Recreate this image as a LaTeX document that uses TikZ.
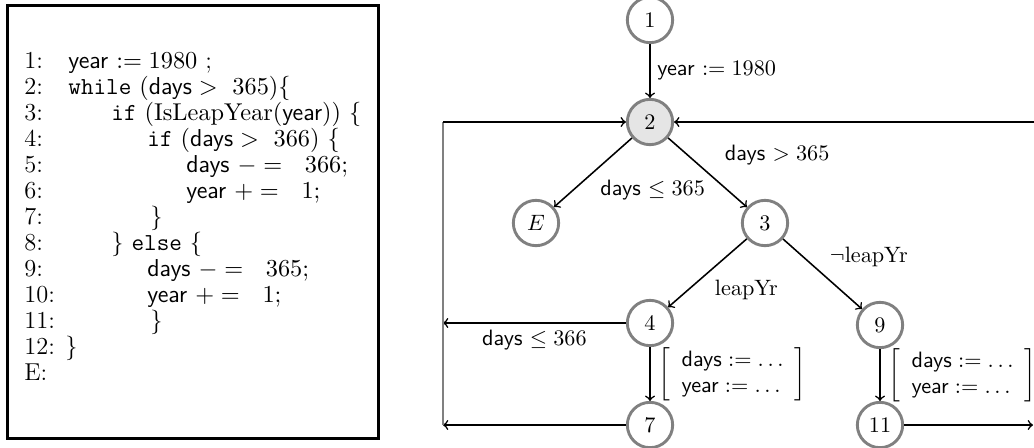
\documentclass[tikz,border=0pt]{standalone}
\usepackage{amsmath,amssymb}
\begin{document}
\begin{tikzpicture}[x=0.45pt,y=-0.45pt,
  cfgnode/.style={circle,draw=gray,line width=1.3pt,minimum size=20.4pt,inner sep=0pt},
  flow/.style={->,line width=0.7pt},
  codeline/.style={anchor=base west,inner sep=0pt,font=\fontsize{11}{13}\selectfont},
  lbl/.style={inner sep=3pt},
  brk/.style={inner sep=3.6pt}]
\useasboundingbox (0,0) rectangle (1034,447);
% code box
\draw[line width=1.35pt] (7,5) rectangle (378,438);
\node[codeline] (l1)  at (24,68)  {1:};
\node[codeline] (t1)  at (68,68)  {\textsf{year} $:= 1980$ ;};
\node[codeline] (l2)  at (24,94)  {2:};
\node[codeline] (t2)  at (68,94)  {\texttt{while} $(\textsf{days} >\ 365)\{$};
\node[codeline] (l3)  at (24,120) {3:};
\node[codeline] (t3)  at (111,120) {\texttt{if} $(\mathrm{IsLeapYear}(\textsf{year}))\ \{$};
\node[codeline] (l4)  at (24,146) {4:};
\node[codeline] (t4)  at (147,146) {\texttt{if} $(\textsf{days} >\ 366)\ \{$};
\node[codeline] (l5)  at (24,172) {5:};
\node[codeline] (t5)  at (186,172) {\textsf{days} $- =\ \ 366;$};
\node[codeline] (l6)  at (24,198) {6:};
\node[codeline] (t6)  at (186,198) {\textsf{year} $+ =\ \ 1;$};
\node[codeline] (l7)  at (24,224) {7:};
\node[codeline] (t7)  at (150,224) {\}};
\node[codeline] (l8)  at (24,250) {8:};
\node[codeline] (t8)  at (111,250) {\} \texttt{else} \{};
\node[codeline] (l9)  at (24,276) {9:};
\node[codeline] (t9)  at (147,276) {\textsf{days} $- =\ \ 365;$};
\node[codeline] (l10) at (24,302) {10:};
\node[codeline] (t10) at (147,302) {\textsf{year} $+ =\ \ 1;$};
\node[codeline] (l11) at (24,328) {11:};
\node[codeline] (t11) at (150,328) {\}};
\node[codeline] (l12) at (24,354) {12:};
\node[codeline] (t12) at (65,354) {\}};
\node[codeline] (lE)  at (24,380) {E:};
% CFG
\node[cfgnode] (n1) at (650,20) {$1$};
\node[cfgnode,fill=gray!20] (n2) at (650,122) {$2$};
\node[cfgnode] (nE) at (536,223) {$E$};
\node[cfgnode] (n3) at (765,223) {$3$};
\node[cfgnode] (n4) at (650,323) {$4$};
\node[cfgnode] (n9) at (880,325) {$9$};
\node[cfgnode] (n7) at (650,425) {$7$};
\node[cfgnode] (n11) at (880,425) {$11$};
\coordinate (L0) at (443,122);
\coordinate (L1) at (443,323);
\coordinate (L2) at (443,425);
\coordinate (R0) at (1034,122);
\coordinate (R1) at (1033,425);
\draw[flow] (n1) -- node[right,lbl]{\textsf{year} $:= 1980$} (n2);
\draw[flow] (n2) -- node[pos=0.5,below right,lbl]{\textsf{days} $\leq 365$} (nE);
\draw[flow] (n2) -- node[pos=0.5,above right,lbl,xshift=4.5pt]{\textsf{days} $> 365$} (n3);
\draw[flow] (n3) -- node[pos=0.5,below right,lbl]{$\mathrm{leapYr}$} (n4);
\draw[flow] (n3) -- node[pos=0.5,above right,lbl]{$\neg\mathrm{leapYr}$} (n9);
\draw[flow] (n4) -- node[right,brk]{$\left[\begin{array}{l}\textsf{days} := \ldots\\ \textsf{year} := \ldots\end{array}\right]$} (n7);
\draw[flow] (n9) -- node[right,brk]{$\left[\begin{array}{l}\textsf{days} := \ldots\\ \textsf{year} := \ldots\end{array}\right]$} (n11);
\draw[flow] (n4) -- node[below,lbl]{\textsf{days} $\leq 366$} (L1);
\draw[flow] (n7) -- (L2);
\draw[gray,line width=0.9pt] (L2) -- (L0);
\draw[flow] (L0) -- (n2);
\draw[flow] (R0) -- (n2);
\draw[flow] (n11) -- (R1);
\end{tikzpicture}
\end{document}
